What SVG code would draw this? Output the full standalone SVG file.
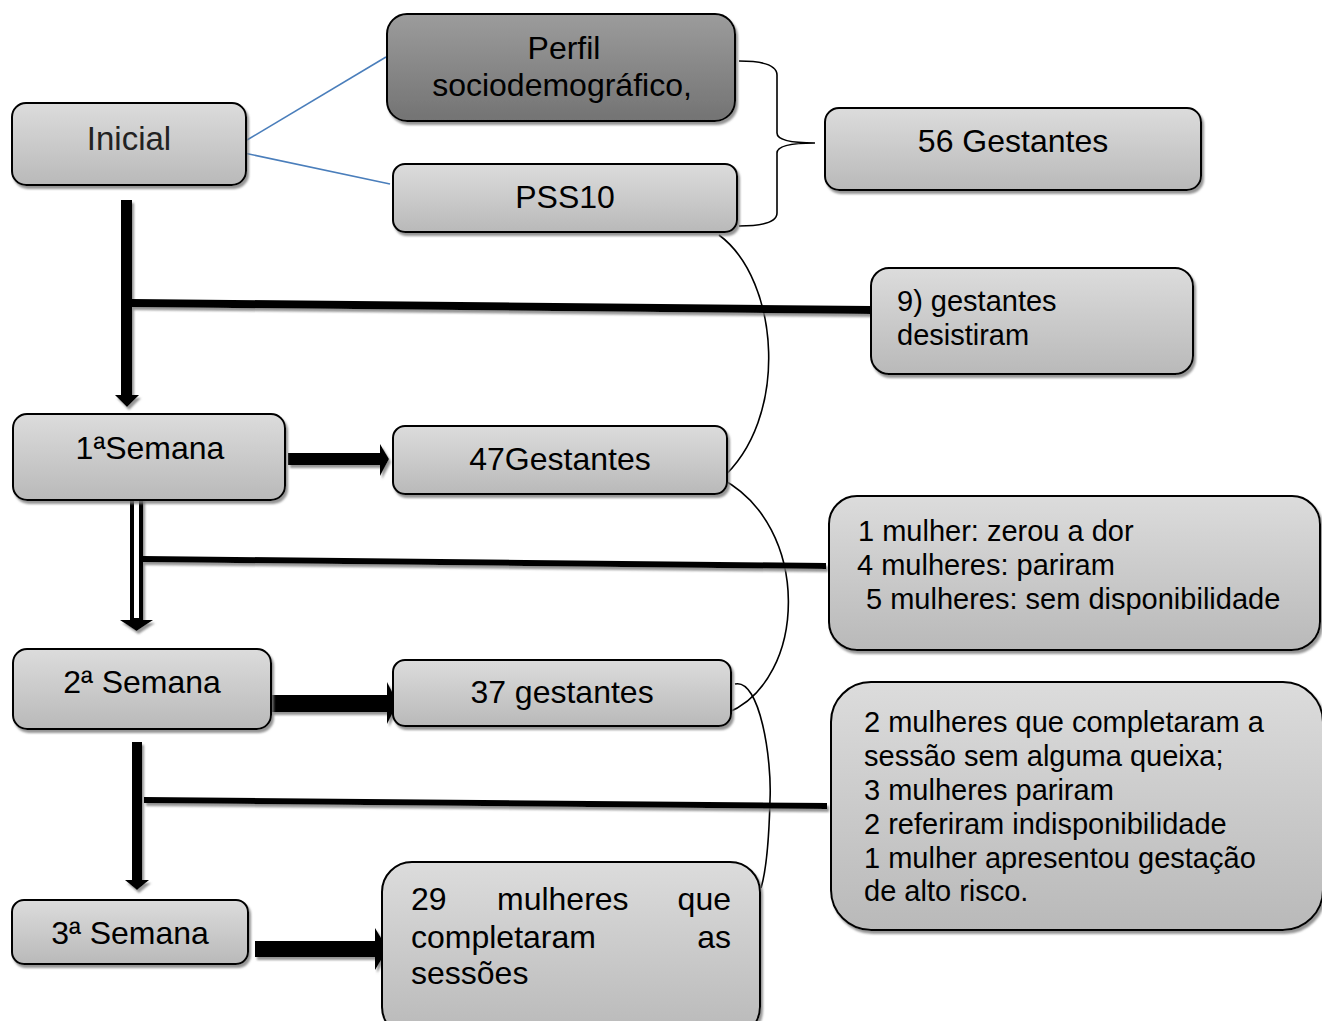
<svg xmlns="http://www.w3.org/2000/svg" width="1322" height="1021" viewBox="0 0 1322 1021">
<defs>
<linearGradient id="g" x1="0" y1="0" x2="0" y2="1"><stop offset="0" stop-color="#dcdcdc"/><stop offset="1" stop-color="#b9b9b9"/></linearGradient>
<linearGradient id="gd" x1="0" y1="0" x2="0" y2="1"><stop offset="0" stop-color="#9c9c9c"/><stop offset="1" stop-color="#737373"/></linearGradient>
<filter id="sh" x="-5%" y="-5%" width="115%" height="130%"><feDropShadow dx="2" dy="3" stdDeviation="1" flood-color="#7a7a7a" flood-opacity="0.8"/></filter>
</defs>
<style>
.box{fill:url(#g);stroke:#000;stroke-width:2;filter:url(#sh)}
.dark{fill:url(#gd)}
.t{font-family:"Liberation Sans",Arial,sans-serif;font-size:32px;fill:#000}
.s{font-family:"Liberation Sans",Arial,sans-serif;font-size:29px;fill:#000}
.c{text-anchor:middle}
.thin{fill:none;stroke:#000;stroke-width:1.6}
.blue{fill:none;stroke:#4a7ebb;stroke-width:1.6}
</style>
<g id="connectors">
<line class="blue" x1="247" y1="140" x2="386" y2="57"/>
<line class="blue" x1="244" y1="153" x2="390" y2="184"/>
<path class="thin" d="M739,61 Q777,61 777,75 L777,133 Q777,143 815,143 Q777,143 777,153 L777,213 Q777,226 739,226"/>
<path class="thin" d="M719,235 C780,280 790,420 720,480"/>
<path class="thin" d="M720,478 C812,525 808,680 727,713"/>
<path class="thin" d="M735,684 C760,678 772,760 770,800 C769,840 767,868 761,888"/>
<g filter="url(#sh)">
<rect x="121" y="200" width="11" height="196" fill="#000"/>
<polygon points="115,395 139,395 127,407" fill="#000"/>
<polygon points="132,299 871,306 871,314 132,307" fill="#000"/>
<rect x="288" y="453" width="93" height="12" fill="#000"/>
<polygon points="380,444 389,459 380,476" fill="#000"/>
<rect x="130" y="494" width="13" height="127" fill="#000"/>
<rect x="134" y="497" width="5" height="121" fill="#fff"/>
<polygon points="120,620 153,620 136.5,631" fill="#000"/>
<polygon points="143,556 826,563 826,569 143,562" fill="#000"/>
<rect x="271" y="695" width="117" height="17" fill="#000"/>
<polygon points="387,682 398,703 387,724" fill="#000"/>
<rect x="132" y="742" width="10" height="139" fill="#000"/>
<polygon points="125,880 149,880 137,890" fill="#000"/>
<polygon points="144,797 827,803 827,809 144,803" fill="#000"/>
<rect x="255" y="941" width="121" height="16" fill="#000"/>
<polygon points="375,928 388,949 375,970" fill="#000"/>
</g>
</g>
<g id="inicial"><rect class="box" x="12" y="103" width="234" height="82" rx="14"/><text class="t c" x="129" y="150" style="font-size:33px;fill:#222">Inicial</text></g>
<g id="perfil"><rect class="box dark" x="387" y="14" width="348" height="107" rx="20"/><text class="t c" x="564" y="59">Perfil</text><text class="t c" x="562" y="96">sociodemográfico,</text></g>
<g id="pss10"><rect class="box" x="393" y="164" width="344" height="68" rx="12"/><text class="t c" x="565" y="208">PSS10</text></g>
<g id="g56"><rect class="box" x="825" y="108" width="376" height="82" rx="14"/><text class="t c" x="1013" y="152">56 Gestantes</text></g>
<g id="desist"><rect class="box" x="871" y="268" width="322" height="106" rx="18"/><text class="s" x="897" y="311">9) gestantes</text><text class="s" x="897" y="345">desistiram</text></g>
<g id="sem1"><rect class="box" x="13" y="414" width="272" height="86" rx="14"/><text class="t c" x="150" y="459">1ªSemana</text></g>
<g id="g47"><rect class="box" x="393" y="426" width="334" height="68" rx="12"/><text class="t c" x="560" y="470">47Gestantes</text></g>
<g id="saida1"><rect class="box" x="829" y="496" width="491" height="154" rx="28"/><text class="s" x="858" y="541">1 mulher: zerou a dor</text><text class="s" x="857" y="575">4 mulheres: pariram</text><text class="s" x="866" y="609">5 mulheres: sem disponibilidade</text></g>
<g id="sem2"><rect class="box" x="13" y="649" width="258" height="80" rx="14"/><text class="t c" x="142" y="693">2ª Semana</text></g>
<g id="g37"><rect class="box" x="393" y="660" width="338" height="66" rx="12"/><text class="t c" x="562" y="703">37 gestantes</text></g>
<g id="saida2"><rect class="box" x="831" y="682" width="492" height="248" rx="40"/><text class="s" x="864" y="732">2 mulheres que completaram a</text><text class="s" x="864" y="766">sessão sem alguma queixa;</text><text class="s" x="864" y="800">3 mulheres pariram</text><text class="s" x="864" y="834">2 referiram indisponibilidade</text><text class="s" x="864" y="868">1 mulher apresentou gestação</text><text class="s" x="864" y="901">de alto risco.</text></g>
<g id="sem3"><rect class="box" x="12" y="900" width="236" height="64" rx="12"/><text class="t c" x="130" y="944">3ª Semana</text></g>
<g id="g29"><rect class="box" x="382" y="862" width="378" height="175" rx="30"/><text class="t" x="411" y="910">29</text><text class="t" x="497" y="910">mulheres</text><text class="t" x="731" y="910" text-anchor="end">que</text><text class="t" x="411" y="948">completaram</text><text class="t" x="731" y="948" text-anchor="end">as</text><text class="t" x="411" y="984">sessões</text></g>
</svg>
